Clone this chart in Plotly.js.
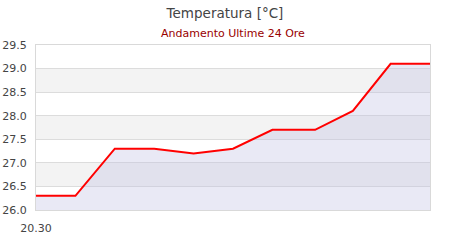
<!DOCTYPE html>
<html>
<head>
<meta charset="utf-8">
<script src="https://cdn.plot.ly/plotly-3.0.1.min.js"></script>
<style>
  html, body { margin: 0; padding: 0; background: #fff; }
  #chart { width: 450px; height: 240px; }
</style>
</head>
<body>
<div id="chart"></div>
<script>
// Hours elapsed since the first reading (20.30)
const hours = [0, 2.4, 4.8, 7.2, 9.6, 12.0, 14.4, 17.0, 19.3, 21.6, 24.0];
// Temperature readings, °C
const temps = [26.3, 26.3, 27.3, 27.3, 27.2, 27.3, 27.7, 27.7, 28.1, 29.1, 29.1];
// Axis labelling
const xTickVals = [0];
const xTickText = ['20.30'];
const yTickVals = [26.0, 26.5, 27.0, 27.5, 28.0, 28.5, 29.0, 29.5];

// Alternating horizontal bands behind the grid
const bands = [];
for (let i = 0; i < yTickVals.length - 1; i++) {
  if (i % 2 === 1) {
    bands.push({
      type: 'rect', layer: 'below',
      xref: 'paper', x0: 0, x1: 1,
      yref: 'y', y0: yTickVals[i], y1: yTickVals[i + 1],
      fillcolor: '#f3f3f3', line: { width: 0 }
    });
  }
}

const trace = {
  x: hours,
  y: temps,
  type: 'scatter',
  mode: 'lines',
  line: { color: '#ff0000', width: 2 },
  fill: 'tozeroy',
  fillcolor: 'rgba(195,195,228,0.36)',
  hoverinfo: 'skip'
};

const layout = {
  width: 450,
  height: 240,
  margin: { l: 36, r: 20, t: 45, b: 30 },
  paper_bgcolor: '#ffffff',
  plot_bgcolor: '#ffffff',
  font: { family: 'DejaVu Sans, sans-serif', size: 11, color: '#444444' },
  showlegend: false,
  title: {
    text: 'Temperatura [°C]',
    font: { family: 'DejaVu Sans, sans-serif', size: 13.5, color: '#444444' },
    xref: 'container', x: 0.5, xanchor: 'center',
    yref: 'container', y: 1 - 13 / 240, yanchor: 'middle'
  },
  annotations: [{
    text: 'Andamento Ultime 24 Ore',
    xref: 'paper', x: 0.5, xanchor: 'center',
    yref: 'paper', y: (165 + 12) / 165, yanchor: 'middle',
    showarrow: false,
    font: { family: 'DejaVu Sans, sans-serif', size: 11, color: '#990000' }
  }],
  xaxis: {
    range: [hours[0], hours[hours.length - 1]],
    tickvals: xTickVals,
    ticktext: xTickText,
    showgrid: false,
    zeroline: false,
    showline: true,
    linecolor: '#d9d9d9',
    linewidth: 1,
    mirror: true,
    ticks: '',
    ticklabelstandoff: 8,
    tickfont: { size: 11, color: '#444444' },
    fixedrange: true
  },
  yaxis: {
    range: [26.0, 29.5],
    tickvals: yTickVals,
    tickformat: '.1f',
    showgrid: true,
    gridcolor: '#dcdcdc',
    gridwidth: 1,
    zeroline: false,
    showline: true,
    linecolor: '#d9d9d9',
    linewidth: 1,
    mirror: true,
    ticks: '',
    ticklabelstandoff: 6,
    tickfont: { size: 11, color: '#444444' },
    fixedrange: true
  },
  shapes: bands
};

Plotly.newPlot('chart', [trace], layout, { displayModeBar: false, staticPlot: true });
</script>
</body>
</html>
